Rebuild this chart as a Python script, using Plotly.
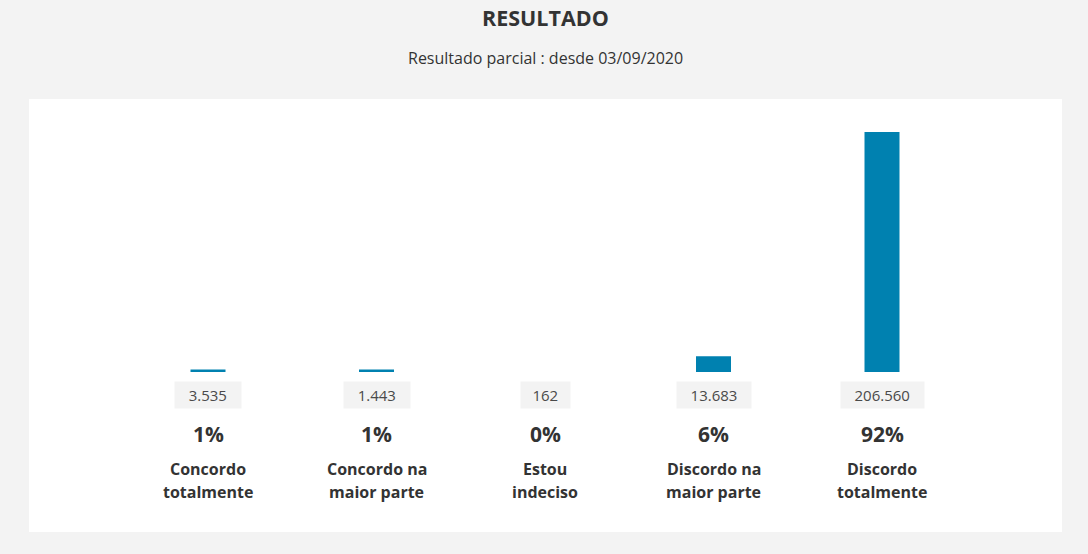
import plotly.graph_objects as go

# poll result values
categories = ["Concordo totalmente", "Concordo na maior parte", "Estou indeciso",
              "Discordo na maior parte", "Discordo totalmente"]
tick_labels = [["Concordo", "totalmente"], ["Concordo na", "maior parte"], ["Estou", "indeciso"],
               ["Discordo na", "maior parte"], ["Discordo", "totalmente"]]
votes = [3535, 1443, 162, 13683, 206560]
vote_labels = ["3.535", "1.443", "162", "13.683", "206.560"]
percents = [1, 1, 0, 6, 92]

W, H = 1088, 554
left, right, top, bottom = 29, 1062, 99, 532
plot_h = bottom - top


def py(pix):
    # pixel row -> paper y
    return (bottom - pix) / plot_h


# y axis: baseline at pixel 372, 92% reaches pixel 132
units_per_px = 92 / (372 - 132)
y_lo = -(bottom - 372) * units_per_px
y_hi = y_lo + plot_h * units_per_px

# x axis: first category centred at 208px, step 168.5px
step = 168.5
x_lo = (left - 208) / step
x_hi = (right - 208) / step

font = "Open Sans, Noto Sans, sans-serif"
dark = "#333333"

fig = go.Figure(go.Bar(
    x=categories,
    y=percents,
    width=35 / step,
    marker=dict(color="#0081b0", line=dict(width=0)),
    hoverinfo="skip",
))

annotations = [
    dict(text="<b>RESULTADO</b>", x=0.5, xref="paper", y=py(17), yref="paper",
         showarrow=False, font=dict(family=font, size=21.5, color=dark),
         xanchor="center", yanchor="middle"),
    dict(text="Resultado parcial : desde 03/09/2020", x=0.5, xref="paper", y=py(58),
         yref="paper", showarrow=False, font=dict(family=font, size=16, color=dark),
         xanchor="center", yanchor="middle"),
]

for cat, lab, vl, pc in zip(categories, tick_labels, vote_labels, percents):
    annotations.append(dict(
        text=vl, x=cat, xref="x", y=py(395), yref="paper", showarrow=False,
        font=dict(family=font, size=15, color="#4a4a4a"),
        bgcolor="#f3f3f3", borderpad=3, width=8.5 * len(vl) + 17,
        xanchor="center", yanchor="middle"))
    annotations.append(dict(
        text=f"<b>{pc}%</b>", x=cat, xref="x", y=py(434), yref="paper", showarrow=False,
        font=dict(family=font, size=21, color=dark),
        xanchor="center", yanchor="middle"))
    for line, ypix in zip(lab, [469, 492]):
        annotations.append(dict(
            text=f"<b>{line}</b>", x=cat, xref="x", y=py(ypix), yref="paper",
            showarrow=False, font=dict(family=font, size=16, color=dark),
            xanchor="center", yanchor="middle"))

fig.update_layout(
    width=W, height=H,
    margin=dict(l=left, r=W - right, t=top, b=H - bottom, pad=0),
    paper_bgcolor="#f3f3f3",
    plot_bgcolor="#ffffff",
    showlegend=False,
    hovermode=False,
    xaxis=dict(range=[x_lo, x_hi], showticklabels=False, showgrid=False,
               zeroline=False, showline=False, ticks=""),
    yaxis=dict(range=[y_lo, y_hi], showticklabels=False, showgrid=False,
               zeroline=False, showline=False, ticks=""),
    annotations=annotations,
)

fig.write_html("out.html", config={"displayModeBar": False},
               post_script="document.body.style.margin='0';document.body.style.background='#f3f3f3';")
